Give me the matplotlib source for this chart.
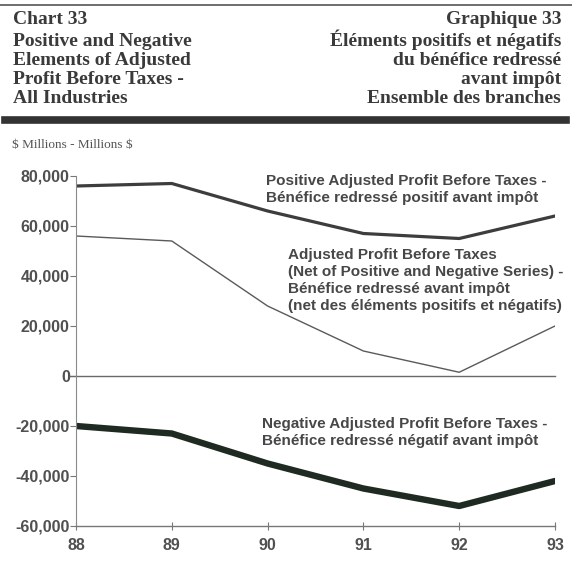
import numpy as np
import matplotlib.pyplot as plt
from matplotlib.lines import Line2D

# annual series, $ millions
years = [88, 89, 90, 91, 92, 93]
year_labels = ['88', '89', '90', '91', '92', '93']
positive = [76000, 77000, 66000, 57000, 55000, 64000]
net = [56000, 54000, 28000, 10000, 1500, 20000]
negative = [-20000, -23000, -35000, -45000, -52000, -42000]
yticks = [-60000, -40000, -20000, 0, 20000, 40000, 60000, 80000]

W, H = 572, 571
fig = plt.figure(figsize=(W / 100, H / 100), dpi=100)
fig.patch.set_facecolor('white')

def fx(x):
    return x / W

def fy(y):
    return 1 - y / H

serif = 'Liberation Serif'
sans = 'Liberation Sans'
title_col = '#3a3a3a'

# header rules
fig.add_artist(Line2D([fx(0), fx(572)], [fy(5), fy(5)], color='#555555', lw=1.2))
fig.add_artist(Line2D([fx(5), fx(566)], [fy(120), fy(120)], color='#333333', lw=5.5))

left_lines = ['Chart 33', 'Positive and Negative', 'Elements of Adjusted',
              'Profit Before Taxes -', 'All Industries']
right_lines = ['Graphique 33', 'Éléments positifs et négatifs', 'du bénéfice redressé',
               'avant impôt', 'Ensemble des branches']
left_base = [24.5, 46, 65, 84, 103]
# accented lines need a little more room on the French side
right_base = [24.5, 46.5, 65, 84, 103]
title_kw = dict(family=serif, weight='bold', fontsize=14, color=title_col,
                va='baseline')
for t, yb in zip(left_lines, left_base):
    fig.text(fx(13), fy(yb), t, ha='left', **title_kw)
for t, yb in zip(right_lines, right_base):
    fig.text(fx(561), fy(yb), t, ha='right', **title_kw)

fig.text(fx(12), fy(148), r'\$ Millions - Millions \$', family=serif, fontsize=9.5,
         color='#555555', va='baseline', ha='left')

ax = fig.add_axes([fx(76), fy(526), fx(555) - fx(76), fy(176) - fy(526)])
ax.set_xlim(88, 93)
ax.set_ylim(-60000, 80000)

ax.plot(years, positive, color='#3d3d3d', lw=2.3, solid_joinstyle='round')
ax.plot(years, net, color='#5a5a5a', lw=1.0)
ax.plot(years, negative, color='#1e2a22', lw=4.6, solid_joinstyle='round',
        solid_capstyle='round')
ax.axhline(0, color='#6a6a6a', lw=1.0, xmin=-0.012, clip_on=False)

for s in ['top', 'right']:
    ax.spines[s].set_visible(False)
ax.spines['left'].set_color('#8a8a8a')
ax.spines['left'].set_linewidth(0.8)
ax.spines['bottom'].set_color('#777777')
ax.spines['bottom'].set_linewidth(1.0)

ax.set_yticks(yticks)
ax.set_yticklabels([f'{v:,}' for v in yticks])
ax.set_xticks(years)
ax.set_xticklabels(year_labels)
ax.tick_params(axis='y', direction='out', length=4, width=0.8, color='#777777',
               pad=0.5, labelsize=11.5, labelcolor='#505050')
ax.tick_params(axis='x', direction='inout', length=6, width=0.8, color='#777777',
               pad=6, labelsize=11.5, labelcolor='#505050')
for lab in ax.get_yticklabels() + ax.get_xticklabels():
    lab.set_family(sans)
    lab.set_weight('bold')

lab_kw = dict(family=sans, weight='bold', fontsize=11, color='#474747',
              va='baseline', ha='left', linespacing=1.0)
fig.text(fx(266), fy(185), 'Positive Adjusted Profit Before Taxes -', **lab_kw)
fig.text(fx(266), fy(202), 'Bénéfice redressé positif avant impôt', **lab_kw)
net_lines = ['Adjusted Profit Before Taxes', '(Net of Positive and Negative Series) -',
             'Bénéfice redressé avant impôt', '(net des éléments positifs et négatifs)']
for i, t in enumerate(net_lines):
    fig.text(fx(288), fy(259 + i * 17), t, **lab_kw)
fig.text(fx(262), fy(428), 'Negative Adjusted Profit Before Taxes -', **lab_kw)
fig.text(fx(262), fy(445), 'Bénéfice redressé négatif avant impôt', **lab_kw)

fig.savefig('out.png', dpi=100, facecolor='white')
